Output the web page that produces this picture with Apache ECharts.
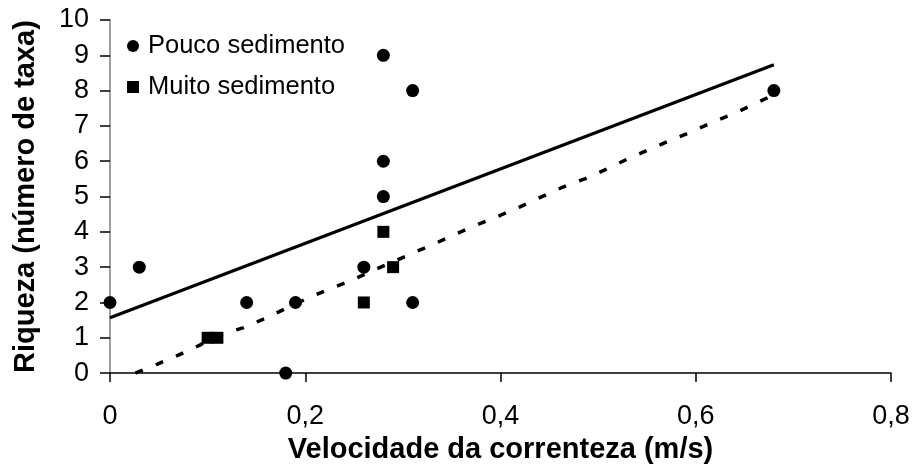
<!DOCTYPE html>
<html>
<head>
<meta charset="utf-8">
<script src="https://cdn.jsdelivr.net/npm/echarts@6/dist/echarts.min.js"></script>
<style>html,body{margin:0;padding:0;background:#fff}#c{width:913px;height:469px}</style>
</head>
<body>
<div id="c"></div>
<script>
// Pouco sedimento (circles)
const poucoX = [0, 0.03, 0.14, 0.18, 0.19, 0.26, 0.28, 0.28, 0.28, 0.31, 0.31, 0.68];
const poucoY = [2, 3, 2, 0, 2, 3, 9, 6, 5, 8, 2, 8];
// Muito sedimento (squares)
const muitoX = [0.10, 0.11, 0.26, 0.28, 0.29];
const muitoY = [1, 1, 2, 4, 3];
// Solid trend line (endpoints)
const solidX = [0, 0.68];
const solidY = [1.57, 8.73];
// Dashed trend line
const dashX = [0.026, 0.048, 0.07, 0.092, 0.104, 0.137, 0.159, 0.18, 0.2, 0.222, 0.246, 0.268, 0.29, 0.311, 0.333, 0.355, 0.377, 0.4, 0.42, 0.442, 0.464, 0.487, 0.509, 0.529, 0.552, 0.574, 0.596, 0.618, 0.64, 0.662, 0.68];
const dashY = [0, 0.25, 0.51, 0.79, 1.0, 1.29, 1.55, 1.83, 2.09, 2.35, 2.61, 2.89, 3.15, 3.41, 3.67, 3.95, 4.21, 4.47, 4.71, 4.99, 5.27, 5.51, 5.78, 6.05, 6.33, 6.59, 6.84, 7.11, 7.36, 7.65, 7.88];
const xTicks = { min: 0, max: 0.8, interval: 0.2 };
const yTicks = { min: 0, max: 10, interval: 1 };
const xTitle = 'Velocidade da correnteza (m/s)';
const yTitle = 'Riqueza (número de taxa)';

const zip = (a, b) => a.map((v, i) => [v, b[i]]);
const FONT = 'Liberation Sans, Arial, sans-serif';

const chart = echarts.init(document.getElementById('c'), null, { renderer: 'canvas' });
chart.setOption({
  animation: false,
  backgroundColor: '#fff',
  grid: { left: 110, right: 22, top: 20, bottom: 95 },
  legend: {
    orient: 'vertical',
    left: 122,
    top: 28,
    itemGap: 15,
    itemWidth: 12,
    itemHeight: 12,
    data: [
      { name: 'Pouco sedimento', icon: 'circle' },
      { name: 'Muito sedimento', icon: 'rect' }
    ],
    textStyle: { fontFamily: FONT, fontSize: 25.5, color: '#000', padding: [0, 0, 0, 4] }
  },
  xAxis: {
    type: 'value',
    min: xTicks.min, max: xTicks.max, interval: xTicks.interval,
    name: xTitle, nameLocation: 'middle', nameGap: 58,
    nameTextStyle: { fontFamily: FONT, fontSize: 29, fontWeight: 'bold', color: '#000' },
    axisLine: { show: true, onZero: false, lineStyle: { color: '#000', width: 1.5 } },
    axisTick: { show: true, length: 9, lineStyle: { color: '#000', width: 1.5 } },
    splitLine: { show: false },
    axisLabel: {
      margin: 30, fontFamily: FONT, fontSize: 27, color: '#000',
      formatter: v => v === 0 ? '0' : v.toFixed(1).replace('.', ',')
    }
  },
  yAxis: {
    type: 'value',
    min: yTicks.min, max: yTicks.max, interval: yTicks.interval,
    name: yTitle, nameLocation: 'middle', nameGap: 70, nameRotate: 90,
    nameTextStyle: { fontFamily: FONT, fontSize: 29, fontWeight: 'bold', color: '#000' },
    axisLine: { show: true, onZero: false, lineStyle: { color: '#808080', width: 1.5 } },
    axisTick: { show: true, length: 10, lineStyle: { color: '#000', width: 1.5 } },
    splitLine: { show: false },
    axisLabel: { margin: 21, fontFamily: FONT, fontSize: 27, color: '#000' }
  },
  series: [
    {
      name: 'solid', type: 'line', data: zip(solidX, solidY),
      showSymbol: false, symbol: 'none', silent: true,
      lineStyle: { color: '#000', width: 3.2 }, z: 2
    },
    {
      name: 'dashed', type: 'line', data: zip(dashX, dashY),
      showSymbol: false, symbol: 'none', silent: true,
      lineStyle: { color: '#000', width: 3.5, type: [8, 14] }, z: 2
    },
    {
      name: 'Pouco sedimento', type: 'scatter', data: zip(poucoX, poucoY),
      symbol: 'circle', symbolSize: 13,
      itemStyle: { color: '#000', opacity: 1 }, z: 3
    },
    {
      name: 'Muito sedimento', type: 'scatter', data: zip(muitoX, muitoY),
      symbol: 'rect', symbolSize: 12,
      itemStyle: { color: '#000', opacity: 1 }, z: 3
    }
  ]
});
</script>
</body>
</html>
